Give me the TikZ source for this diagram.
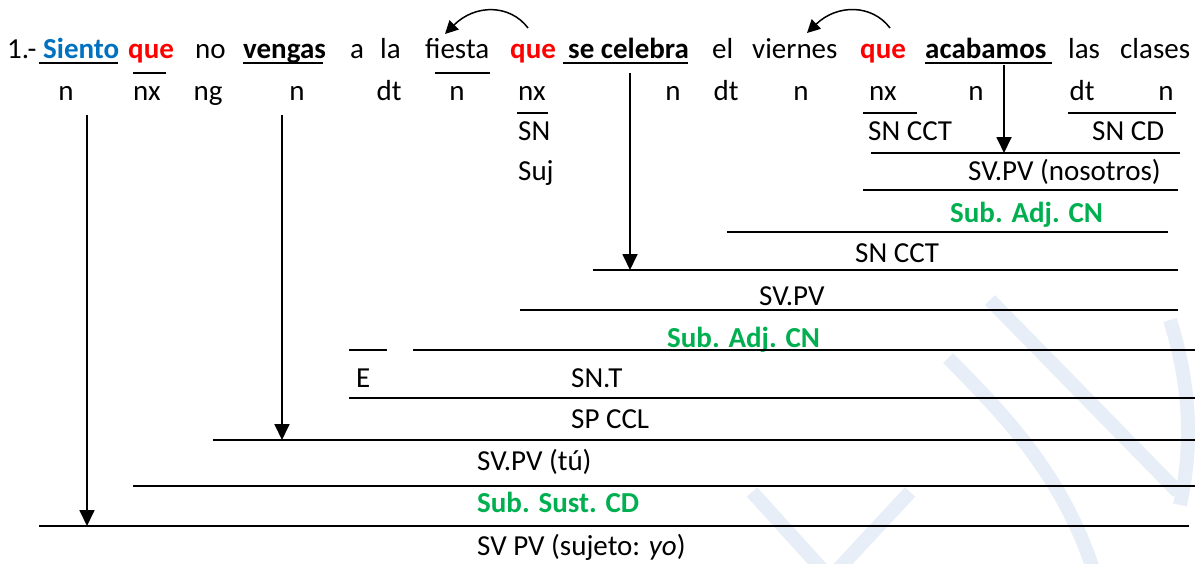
\documentclass[tikz,border=0pt]{standalone}
\usepackage{fontspec}
\setmainfont{Carlito}
\usetikzlibrary{arrows.meta}
\definecolor{wblue}{RGB}{0,112,192}
\definecolor{wred}{RGB}{255,0,0}
\definecolor{wgreen}{RGB}{0,176,80}
\definecolor{wmark}{RGB}{232,238,247}
\begin{document}
\begin{tikzpicture}[x=1pt,y=-1pt,
  txt/.style={anchor=base west,inner sep=0pt,font=\fontsize{29}{34}\selectfont},
  bx/.style={anchor=base west,inner sep=0pt,font=\fontsize{29}{34}\selectfont\bfseries},
  tag/.style={anchor=base,inner sep=0pt,font=\fontsize{29}{34}\selectfont},
  rule/.style={line width=1.8pt},
  thinrule/.style={line width=1.4pt},
  varrow/.style={line width=1.8pt,-{Triangle[length=16pt,width=15pt]}},
  carrow/.style={line width=1.5pt,-{Triangle[length=13pt,width=13pt]}},
  wm/.style={draw=wmark,line width=14pt}]
\useasboundingbox (0,0) rectangle (1195,563);
% watermark
\draw[wm] (990,300) -- (1178,492);
\draw[wm] (1170,320) .. controls (1192,390) and (1192,450) .. (1180,505);
\draw[wm] (948,358) .. controls (1010,420) and (1065,480) .. (1095,575);
\draw[wm] (752,492) -- (830,578) -- (910,492);
% row 1
\node[txt] (num) at (7,58) {1.-};
\node[bx,text=wblue] (siento) at (43,58) {Siento};
\node[bx,text=wred] (que1) at (128,58) {que};
\node[txt] (no) at (195,58) {no};
\node[bx] (vengas) at (243,58) {vengas};
\node[txt] (a) at (350,58) {a};
\node[txt] (la) at (380,58) {la};
\node[txt] (fiesta) at (425,58) {fiesta};
\node[bx,text=wred] (que2) at (510,58) {que};
\node[bx] (celebra) at (568,58) {se celebra};
\node[txt] (el) at (712,58) {el};
\node[txt] (viernes) at (752,58) {viernes};
\node[bx,text=wred] (que3) at (860,58) {que};
\node[bx] (acabamos) at (925,58) {acabamos};
\node[txt] (las) at (1068,58) {las};
\node[txt] (clases) at (1120,58) {clases};
% underlines
\draw[rule] (39,63) -- (118,63);
\draw[rule] (243,63) -- (323,63);
\draw[rule] (563,63) -- (688,63);
\draw[rule] (925,63) -- (1052,63);
% row 2 tags
\node[tag] (t1) at (66,100) {n};
\node[tag] (t2) at (147,100) {nx};
\node[tag] (t3) at (208,100) {ng};
\node[tag] (t4) at (297,100) {n};
\node[tag] (t5) at (389,100) {dt};
\node[tag] (t6) at (457,100) {n};
\node[tag] (t7) at (532,100) {nx};
\node[tag] (t8) at (673,100) {n};
\node[tag] (t9) at (726,100) {dt};
\node[tag] (t10) at (801,100) {n};
\node[tag] (t11) at (883,100) {nx};
\node[tag] (t12) at (976,100) {n};
\node[tag] (t13) at (1082,100) {dt};
\node[tag] (t14) at (1166,100) {n};
\draw[thinrule] (133,73) -- (166,73);
\draw[thinrule] (435,73) -- (490,73);
% row 3
\draw[thinrule] (517,113) -- (548,113);
\draw[thinrule] (863,113) -- (917,113);
\draw[thinrule] (1068,113) -- (1176,113);
\node[txt] (sn1) at (518,140) {SN};
\node[txt] (sncct1) at (868,140) {SN CCT};
\node[txt] (sncd) at (1092,140) {SN CD};
% analysis lines and labels
\draw[rule] (871,153) -- (1180,153);
\node[txt] (suj) at (518,180) {Suj};
\node[txt] (svnos) at (968,180) {SV.PV (nosotros)};
\draw[rule] (863,190) -- (1178,190);
\node[bx,text=wgreen] (adj1) at (950,222) {Sub. Adj. CN};
\draw[rule] (727,232) -- (1168,232);
\node[txt] (sncct2) at (855,262) {SN CCT};
\draw[rule] (593,270) -- (1178,270);
\node[txt] (svpv) at (759,305) {SV.PV};
\draw[rule] (520,310) -- (1178,310);
\node[bx,text=wgreen] (adj2) at (667,347) {Sub. Adj. CN};
\draw[rule] (349,350) -- (387,350);
\draw[rule] (413,350) -- (1195,350);
\node[txt] (e) at (356,387) {E};
\node[txt] (snt) at (571,387) {SN.T};
\draw[rule] (349,398) -- (1195,398);
\node[txt] (spccl) at (571,428) {SP CCL};
\draw[rule] (213,440) -- (1195,440);
\node[txt] (svtu) at (477,470) {SV.PV (tú)};
\draw[rule] (133,486) -- (1195,486);
\node[bx,text=wgreen] (sust) at (477,512) {Sub. Sust. CD};
\draw[rule] (39,526) -- (1189,526);
\node[txt] (svsuj) at (477,555) {SV PV (sujeto: \textit{yo})};
% vertical arrows
\coordinate (a1s) at (87,115); \coordinate (a1e) at (87,526);
\coordinate (a2s) at (282,115); \coordinate (a2e) at (282,440);
\coordinate (a3s) at (630,73); \coordinate (a3e) at (630,270);
\coordinate (a4s) at (1004,65); \coordinate (a4e) at (1004,153);
\draw[varrow] (a1s) -- (a1e);
\draw[varrow] (a2s) -- (a2e);
\draw[varrow] (a3s) -- (a3e);
\draw[varrow] (a4s) -- (a4e);
% curved arrows
\coordinate (c1s) at (528,28); \coordinate (c1e) at (445,34);
\coordinate (c2s) at (890,28); \coordinate (c2e) at (807,33);
\draw[carrow] (c1s) .. controls (510,4) and (475,4) .. (c1e);
\draw[carrow] (c2s) .. controls (872,4) and (837,4) .. (c2e);
\end{tikzpicture}
\end{document}
